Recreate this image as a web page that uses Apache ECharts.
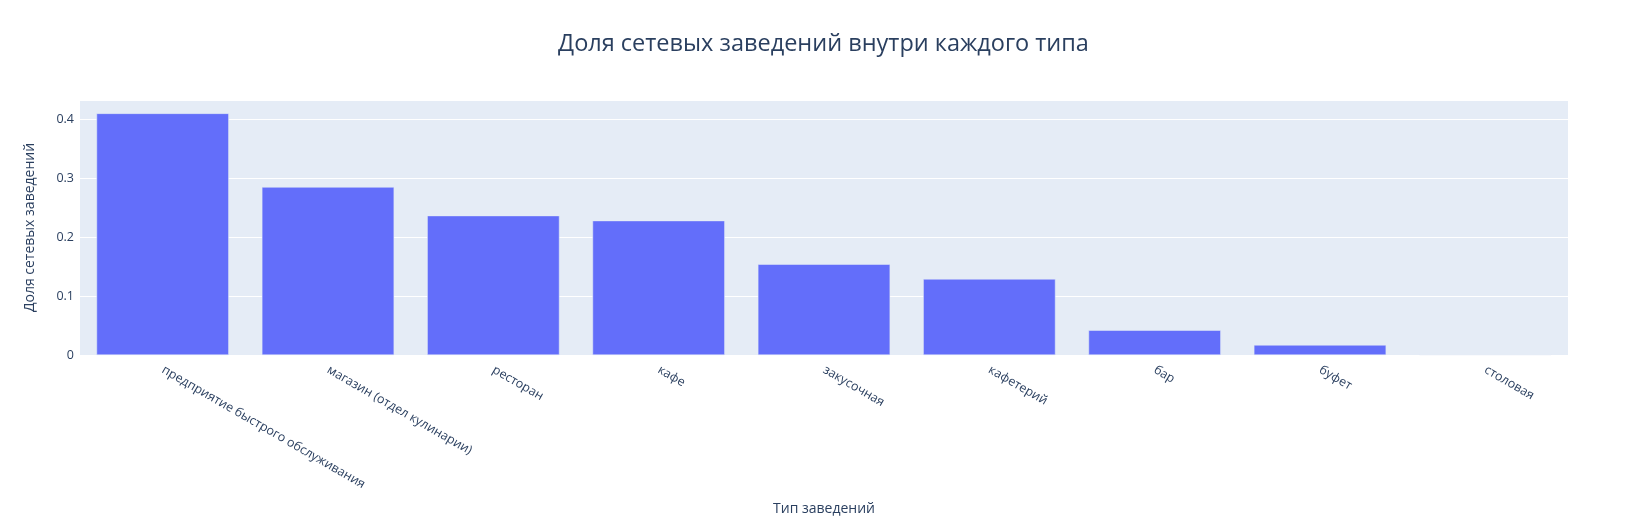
<!DOCTYPE html>
<html>
<head>
<meta charset="utf-8">
<script src="https://cdn.jsdelivr.net/npm/echarts@6/dist/echarts.min.js"></script>
<style>
html,body{margin:0;padding:0;background:#fff;}
#c{width:1647px;height:525px;}
</style>
</head>
<body>
<div id="c"></div>
<script>
const categories = ["предприятие быстрого обслуживания", "магазин (отдел кулинарии)", "ресторан", "кафе", "закусочная", "кафетерий", "бар", "буфет", "столовая"];
const shares = [0.410, 0.285, 0.2365, 0.228, 0.154, 0.129, 0.042, 0.017, 0.001];
const titleText = "Доля сетевых заведений внутри каждого типа";
const xTitle = "Тип заведений";
const yTitle = "Доля сетевых заведений";

const FONT = '"Open Sans", "Noto Sans", sans-serif';
const TXT = '#2a3f5f';
const chart = echarts.init(document.getElementById('c'), null, {renderer: 'canvas'});
chart.setOption({
  animation: false,
  backgroundColor: '#ffffff',
  title: {
    text: titleText,
    left: 'center',
    top: 27,
    textStyle: {fontFamily: FONT, fontSize: 23.5, fontWeight: 'normal', color: TXT}
  },
  grid: {
    left: 80, right: 79, top: 100, bottom: 170,
    show: true, backgroundColor: '#E5ECF6', borderWidth: 0, containLabel: false
  },
  xAxis: {
    type: 'category',
    data: categories,
    name: xTitle,
    nameLocation: 'middle',
    nameGap: 147,
    nameTextStyle: {fontFamily: FONT, fontSize: 14, color: TXT},
    axisLine: {show: false},
    axisTick: {show: false},
    axisLabel: {
      interval: 0, rotate: -30, margin: 14,
      fontFamily: FONT, fontSize: 12.5, color: TXT
    }
  },
  yAxis: {
    type: 'value',
    min: 0,
    max: 0.4327,
    interval: 0.1,
    name: yTitle,
    nameLocation: 'middle',
    nameGap: 43,
    nameTextStyle: {fontFamily: FONT, fontSize: 14, color: TXT, padding: [0, 0, 0, 0]},
    axisLine: {show: false},
    axisTick: {show: false},
    splitLine: {lineStyle: {color: '#ffffff', width: 1}},
    axisLabel: {
      margin: 6, fontFamily: FONT, fontSize: 12.5, color: TXT,
      showMaxLabel: false,
      formatter: v => v === 0 ? '0' : (Math.abs(v - Math.round(v * 10) / 10) < 1e-9 ? v.toFixed(1) : '')
    }
  },
  series: [{
    type: 'bar',
    data: shares,
    barCategoryGap: '20%',
    itemStyle: {color: '#636EFA', borderColor: '#E5ECF6', borderWidth: 0.5}
  }]
});
</script>
</body>
</html>
